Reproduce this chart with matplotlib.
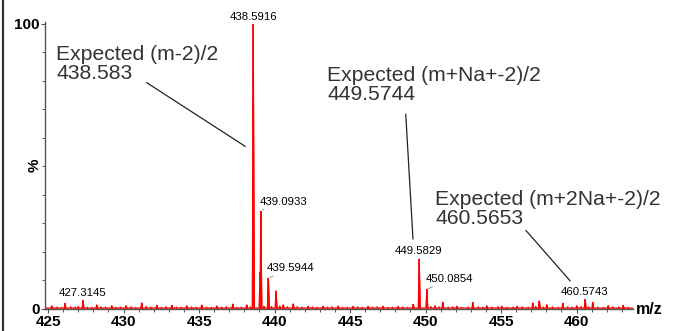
import numpy as np
import matplotlib
matplotlib.use("Agg")
import matplotlib.pyplot as plt
from matplotlib.lines import Line2D
from matplotlib.ticker import MultipleLocator, FixedLocator

plt.rcParams['font.family'] = ['Liberation Sans', 'DejaVu Sans']

# ---- data ----
# labelled peaks (m/z, relative intensity %)
label_mz = [427.3145, 438.5916, 439.0933, 439.5944, 449.5829, 450.0854, 460.5743]
label_int = [3.1, 100.0, 34.5, 10.8, 17.7, 6.9, 3.5]

# other visible peaks (isotope shoulders and noise)
other_mz = [425.25, 426.13, 428.22, 429.22, 430.17, 431.20, 432.20, 433.19, 434.19,
            435.17, 436.17, 437.23, 438.16, 439.04, 440.10, 440.58, 441.24, 442.24,
            443.23, 444.22, 445.22, 446.21, 447.20, 448.20, 449.19, 450.63, 451.14,
            452.07, 453.13, 454.05, 455.05, 456.08, 457.10, 457.54, 458.03, 459.09,
            460.01, 461.07, 462.10, 463.10]
other_int = [1.2, 2.0, 1.5, 1.2, 1.2, 2.2, 1.3, 1.3, 1.2,
             1.4, 1.1, 1.8, 1.5, 13.0, 6.4, 1.5, 1.8, 1.0,
             1.0, 1.1, 0.9, 0.9, 1.0, 0.9, 1.7, 1.2, 2.5,
             1.0, 2.3, 1.2, 1.0, 1.0, 2.1, 2.9, 1.5, 2.1,
             1.2, 2.3, 1.2, 1.3]

# low-level baseline bumps between the peaks
noise_mz = [425.6, 425.9, 426.5, 426.8, 427.0, 427.6, 427.9, 428.5, 428.8, 429.5, 429.8,
            430.5, 430.8, 431.5, 431.8, 432.5, 432.8, 433.5, 433.8, 434.5, 434.8,
            435.5, 435.8, 436.5, 436.8, 437.5, 437.8, 438.4, 439.3, 439.8, 440.35,
            440.85, 441.5, 441.8, 442.5, 442.8, 443.5, 443.8, 444.5, 444.8, 445.5,
            445.8, 446.5, 446.8, 447.5, 447.8, 448.5, 448.8, 450.35, 450.9, 451.5,
            451.8, 452.4, 452.8, 453.5, 453.8, 454.4, 454.8, 455.4, 455.8, 456.4,
            456.8, 457.3, 457.8, 458.4, 458.8, 459.4, 459.7, 460.3, 460.8, 461.4,
            461.8, 462.4, 462.8, 463.4]
noise_int = [0.7, 0.6, 0.8, 0.7, 0.9, 0.7, 0.6, 0.8, 0.7, 0.6, 0.7,
             0.8, 0.6, 0.9, 0.7, 0.6, 0.8, 0.7, 0.6, 0.8, 0.6,
             0.7, 0.6, 0.7, 0.8, 0.6, 0.7, 0.8, 1.0, 0.9, 1.1,
             0.8, 0.9, 0.7, 0.8, 0.6, 0.7, 0.8, 0.6, 0.7, 0.8,
             0.6, 0.7, 0.8, 0.6, 0.7, 0.8, 0.6, 0.9, 0.8, 0.7,
             0.8, 0.6, 0.7, 0.8, 0.6, 0.7, 0.9, 0.6, 0.7, 0.8,
             0.7, 0.9, 0.7, 0.8, 0.6, 0.8, 0.7, 0.9, 0.8, 0.7,
             0.6, 0.8, 0.7, 0.6]

label_text = ['427.3145', '438.5916', '439.0933', '439.5944', '449.5829', '450.0854', '460.5743']

expected_text = ['Expected (m-2)/2\n438.583',
                 'Expected (m+Na+-2)/2\n449.5744',
                 'Expected (m+2Na+-2)/2\n460.5653']

x_ticks = [425, 430, 435, 440, 445, 450, 455, 460]
y_ticks = [0, 100]

# ---- figure ----
W, H = 688, 331
fig = plt.figure(figsize=(W / 100, H / 100), dpi=100)
ax = fig.add_axes([45 / W, 1 - 309 / H, (633 - 45) / W, (309 - 22) / H])
ax.set_xlim(424.8, 463.74)
ax.set_ylim(0, 100.7)

red = '#ff0000'
all_mz = np.array(label_mz + other_mz + noise_mz)
all_int = np.array(label_int + other_int + noise_int)
order = np.argsort(all_mz)
all_mz, all_int = all_mz[order], all_int[order]

# profile: each peak drawn as a narrow triangle
hw = 0.07
grid = np.linspace(424.8, 463.74, 8000)
prof = np.zeros_like(grid)
for m, h in zip(all_mz, all_int):
    tri = h * np.clip(1 - np.abs(grid - m) / hw, 0, None)
    prof = np.maximum(prof, tri)
prof = np.maximum(prof, 0.35)
ax.fill_between(grid, 0, prof, color=red, lw=0)
ax.plot(grid, prof, color=red, lw=0.8)
ax.vlines(label_mz + other_mz, 0, label_int + other_int, color=red, lw=1.2)

# spines / ticks
for s in ['top', 'right']:
    ax.spines[s].set_visible(False)
for s in ['left', 'bottom']:
    ax.spines[s].set_color('#555555')
    ax.spines[s].set_linewidth(1.0)
ax.xaxis.set_major_locator(FixedLocator(x_ticks))
ax.xaxis.set_minor_locator(MultipleLocator(1))
ax.yaxis.set_major_locator(FixedLocator(y_ticks))
ax.yaxis.set_minor_locator(MultipleLocator(10))
ax.tick_params(axis='both', which='major', length=3, width=0.8, color='#555555',
               labelsize=11, pad=1)
ax.tick_params(axis='both', which='minor', length=2.5, width=0.7, color='#555555')
for lab in ax.get_xticklabels() + ax.get_yticklabels():
    lab.set_fontweight('bold')

ax.text(1.005, 0, 'm/z', transform=ax.transAxes, ha='left', va='center',
        fontsize=11.5, fontweight='bold')
fig.text(35 / W, 1 - 165 / H, '%', rotation=90, ha='center', va='center',
         fontsize=11, fontweight='bold')

# peak labels
label_offsets = [(0, 5.4), (0, 4.8), (16.5, 6.5), (16, 7.2), (-0.5, 5.4), (16.5, 7.4), (-0.8, 5.2)]
label_leader = [False, False, True, True, False, True, False]
for m, h, t, off, ld in zip(label_mz, label_int, label_text, label_offsets, label_leader):
    kw = dict(xy=(m, h), xytext=off, textcoords='offset points', ha='center',
              va='center', fontsize=8.2, color='#000000', annotation_clip=False)
    if ld:
        kw['arrowprops'] = dict(arrowstyle='-', color='#888888', lw=0.6,
                                shrinkA=0, shrinkB=1)
    ax.annotate(t, **kw)

# expected annotations (text position and leader line, data coords)
exp_text_pos = [(425.53, 86.0), (443.48, 78.6), (450.63, 35.2)]
exp_leaders = [((431.54, 79.4), (438.05, 57.1)),
               ((448.69, 68.3), (449.17, 24.6)),
               ((456.66, 27.5), (459.57, 9.9))]
for t, p, (a, b) in zip(expected_text, exp_text_pos, exp_leaders):
    ax.text(p[0], p[1], t, ha='left', va='center', fontsize=15.2, color='#333333',
            linespacing=1.0)
    ax.add_line(Line2D([a[0], b[0]], [a[1], b[1]], color='#222222', lw=0.9))

# left border of the panel
fig.add_artist(Line2D([2.5 / W, 2.5 / W], [0, 1], color='#333333', lw=1.6,
                      transform=fig.transFigure))

fig.savefig('out.png', dpi=100)
